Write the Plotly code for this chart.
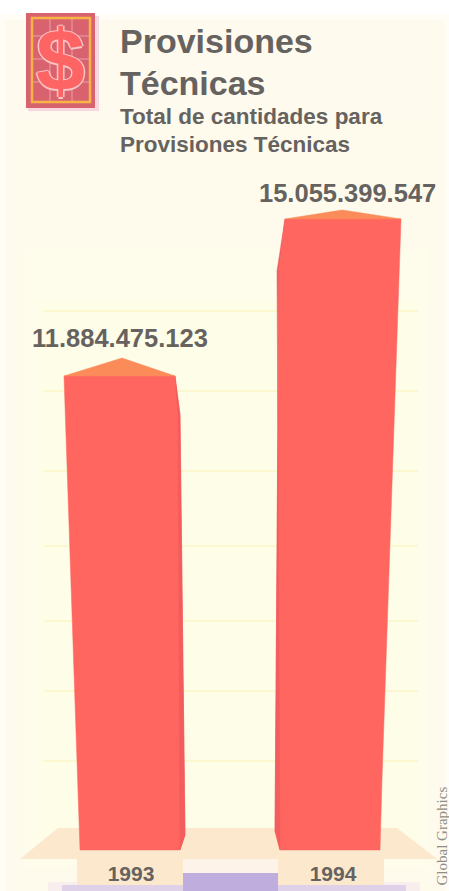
#!/usr/bin/env python3
"""Provisiones Tecnicas: two pseudo-3D bars, 1993 and 1994."""
import plotly.graph_objects as go

W, H = 449, 891

# ----------------------------------------------------------------------------
# Data
# ----------------------------------------------------------------------------
years = ["1993", "1994"]
totals = [11884475123, 15055399547]
total_labels = ["11.884.475.123", "15.055.399.547"]

# the picture's axis does not start at zero: 157 px between the two bar tops
UNITS_PER_PX = (totals[1] - totals[0]) / 157
TOP_1993_PX = 376
FLOOR_PX = 850

FONT = "Liberation Sans"
INK = "#66625f"
RED = "#ff6660"
RED_DARK = "#f25d5e"
ORANGE = "#fb8b58"
TAN = "#fce8cd"


def val_at(px):
    """Axis value that sits at a given pixel row."""
    return totals[0] + (TOP_1993_PX - px) * UNITS_PER_PX


def below_top(value, dy):
    return value - dy * UNITS_PER_PX


def py(px):
    return 1 - px / H


def poly(xs, ys, color):
    return go.Scatter(x=xs, y=ys, mode="lines", fill="toself", fillcolor=color,
                      line=dict(width=0.5, color=color, simplify=False),
                      hoverinfo="skip", showlegend=False)


def rect(x0, y0, x1, y1, color, opacity=1):
    return dict(type="rect", xref="x", yref="paper", x0=x0, x1=x1, y0=py(y0), y1=py(y1),
                fillcolor=color, opacity=opacity, line=dict(width=0), layer="below")


fig = go.Figure()

floor = val_at(FLOOR_PX)
v93, v94 = totals

# ----------------------------------------------------------------------------
# Bars: front face, darker side strip, orange cap
# ----------------------------------------------------------------------------
fig.add_trace(poly([64, 175, 180, 185, 180, 80, 64],
                   [v93, v93, below_top(v93, 39), below_top(v93, 459), floor, floor, v93], RED))
fig.add_trace(poly([175, 180, 185, 180, 178, 175],
                   [v93, below_top(v93, 39), below_top(v93, 459), floor, below_top(v93, 39), v93], RED_DARK))
fig.add_trace(poly([64, 122, 175, 64], [v93, below_top(v93, -18), v93, v93], ORANGE))

fig.add_trace(poly([285, 401, 382, 380, 280, 275, 279, 285],
                   [v94, v94, below_top(v94, 560), floor, floor, below_top(v94, 612),
                    below_top(v94, 52), v94], RED))
fig.add_trace(poly([285, 279, 275, 280, 277, 285],
                   [v94, below_top(v94, 52), below_top(v94, 612), floor, below_top(v94, 52), v94], RED_DARK))
fig.add_trace(poly([285, 342, 401, 285], [v94, below_top(v94, -9), v94, v94], ORANGE))

# ----------------------------------------------------------------------------
# Backdrop
# ----------------------------------------------------------------------------
shapes = [
    rect(0, 14, 449, 891, "#fffdf5"),
    rect(5, 20, 445, 891, "#fefbee"),
    rect(14, 120, 438, 891, "#fefbec"),
    rect(24, 250, 428, 868, "#fefcea"),
    rect(38, 300, 418, 850, "#fefde7"),
]
for gy in [311, 391, 471, 546, 621, 691, 761]:
    shapes.append(dict(type="line", xref="x", yref="paper", x0=44, x1=418, y0=py(gy), y1=py(gy),
                       line=dict(color="#fbf8d0", width=2), layer="below"))

# floor plane, label plates and the purple band under them
shapes.append(dict(type="path", path="M 20 %f L 58 %f L 397 %f L 437 %f Z" % (
    val_at(859), val_at(828), val_at(828), val_at(859)),
    xref="x", yref="y", fillcolor=TAN, line=dict(width=0), layer="below"))
shapes += [
    rect(77, 859, 384, 874, "#fdf3e8"),
    rect(48, 882, 420, 891, "#f3e6ee", 0.6),
    rect(62, 885, 406, 891, "#d8c9e6", 0.8),
    rect(183, 873, 278, 891, "#bfaedd"),
    rect(77, 859, 183, 885, TAN),
    rect(278, 859, 384, 885, TAN),
]

# $ badge
shapes += [
    dict(type="rect", xref="x", yref="paper", x0=28, x1=99, y0=py(16), y1=py(111),
         fillcolor="#f3c0d6", opacity=0.6, line=dict(width=0), layer="below"),
    rect(26, 13, 95, 108, "#d8636f"),
    dict(type="rect", xref="x", yref="paper", x0=32, x1=90, y0=py(18), y1=py(102),
         fillcolor="rgba(0,0,0,0)", line=dict(color="#f6b348", width=2.5), layer="below"),
]
for gy in [36, 59, 82]:
    shapes.append(dict(type="line", xref="x", yref="paper", x0=33, x1=89, y0=py(gy), y1=py(gy),
                       line=dict(color="#eca0a8", width=1), layer="below"))
for gx in [50, 72]:
    shapes.append(dict(type="line", xref="x", yref="paper", x0=gx, x1=gx, y0=py(19), y1=py(101),
                       line=dict(color="#eca0a8", width=1), layer="below"))

# ----------------------------------------------------------------------------
# Text
# ----------------------------------------------------------------------------
def label(x, y, text, size, anchor="left", color=INK, shadow=None):
    font = dict(family=FONT, size=size, color=color)
    if shadow:
        font["shadow"] = shadow
    return dict(x=x, y=py(y), xref="x", yref="paper", text=f"<b>{text}</b>", showarrow=False,
                xanchor=anchor, yanchor="middle", font=font)


DOLLAR_EDGE = "1.5px 0 0 #f8c4c4, -1.5px 0 0 #f8c4c4, 0 1.5px 0 #f8c4c4, 0 -1.5px 0 #f8c4c4"

annotations = [
    label(118, 41, "Provisiones", 34),
    label(118, 83, "Técnicas", 34),
    label(118, 117, "Total de cantidades para", 22.5),
    label(118, 144, "Provisiones Técnicas", 22.5),
    label(120, 338, total_labels[0], 25.5, "center"),
    label(347, 193, total_labels[1], 25.5, "center"),
    label(60, 60, "$", 88, "center", color="#ff6464", shadow=DOLLAR_EDGE),
    dict(x=441, y=py(888), xref="x", yref="paper", text="Global Graphics", showarrow=False,
         textangle=-90, xanchor="center", yanchor="bottom",
         font=dict(family="Liberation Serif", size=15, color="#8f8d86")),
]

fig.update_layout(
    width=W, height=H,
    margin=dict(l=0, r=0, t=0, b=0),
    paper_bgcolor="white", plot_bgcolor="rgba(0,0,0,0)",
    showlegend=False,
    shapes=shapes, annotations=annotations,
    xaxis=dict(range=[0, W], showgrid=False, zeroline=False, showline=False, ticks="",
               tickmode="array", tickvals=[131, 333], ticktext=[f"<b>{y}</b>" for y in years],
               tickfont=dict(family=FONT, size=21, color=INK),
               anchor="free", position=py(859)),
    yaxis=dict(range=[val_at(H), val_at(0)], visible=False, showgrid=False, zeroline=False),
)

# the page's default body margin would push the figure 8 px in
fig.write_html("out.html", config=dict(displayModeBar=False),
               post_script="document.body.style.margin='0';document.body.style.overflow='hidden';")
